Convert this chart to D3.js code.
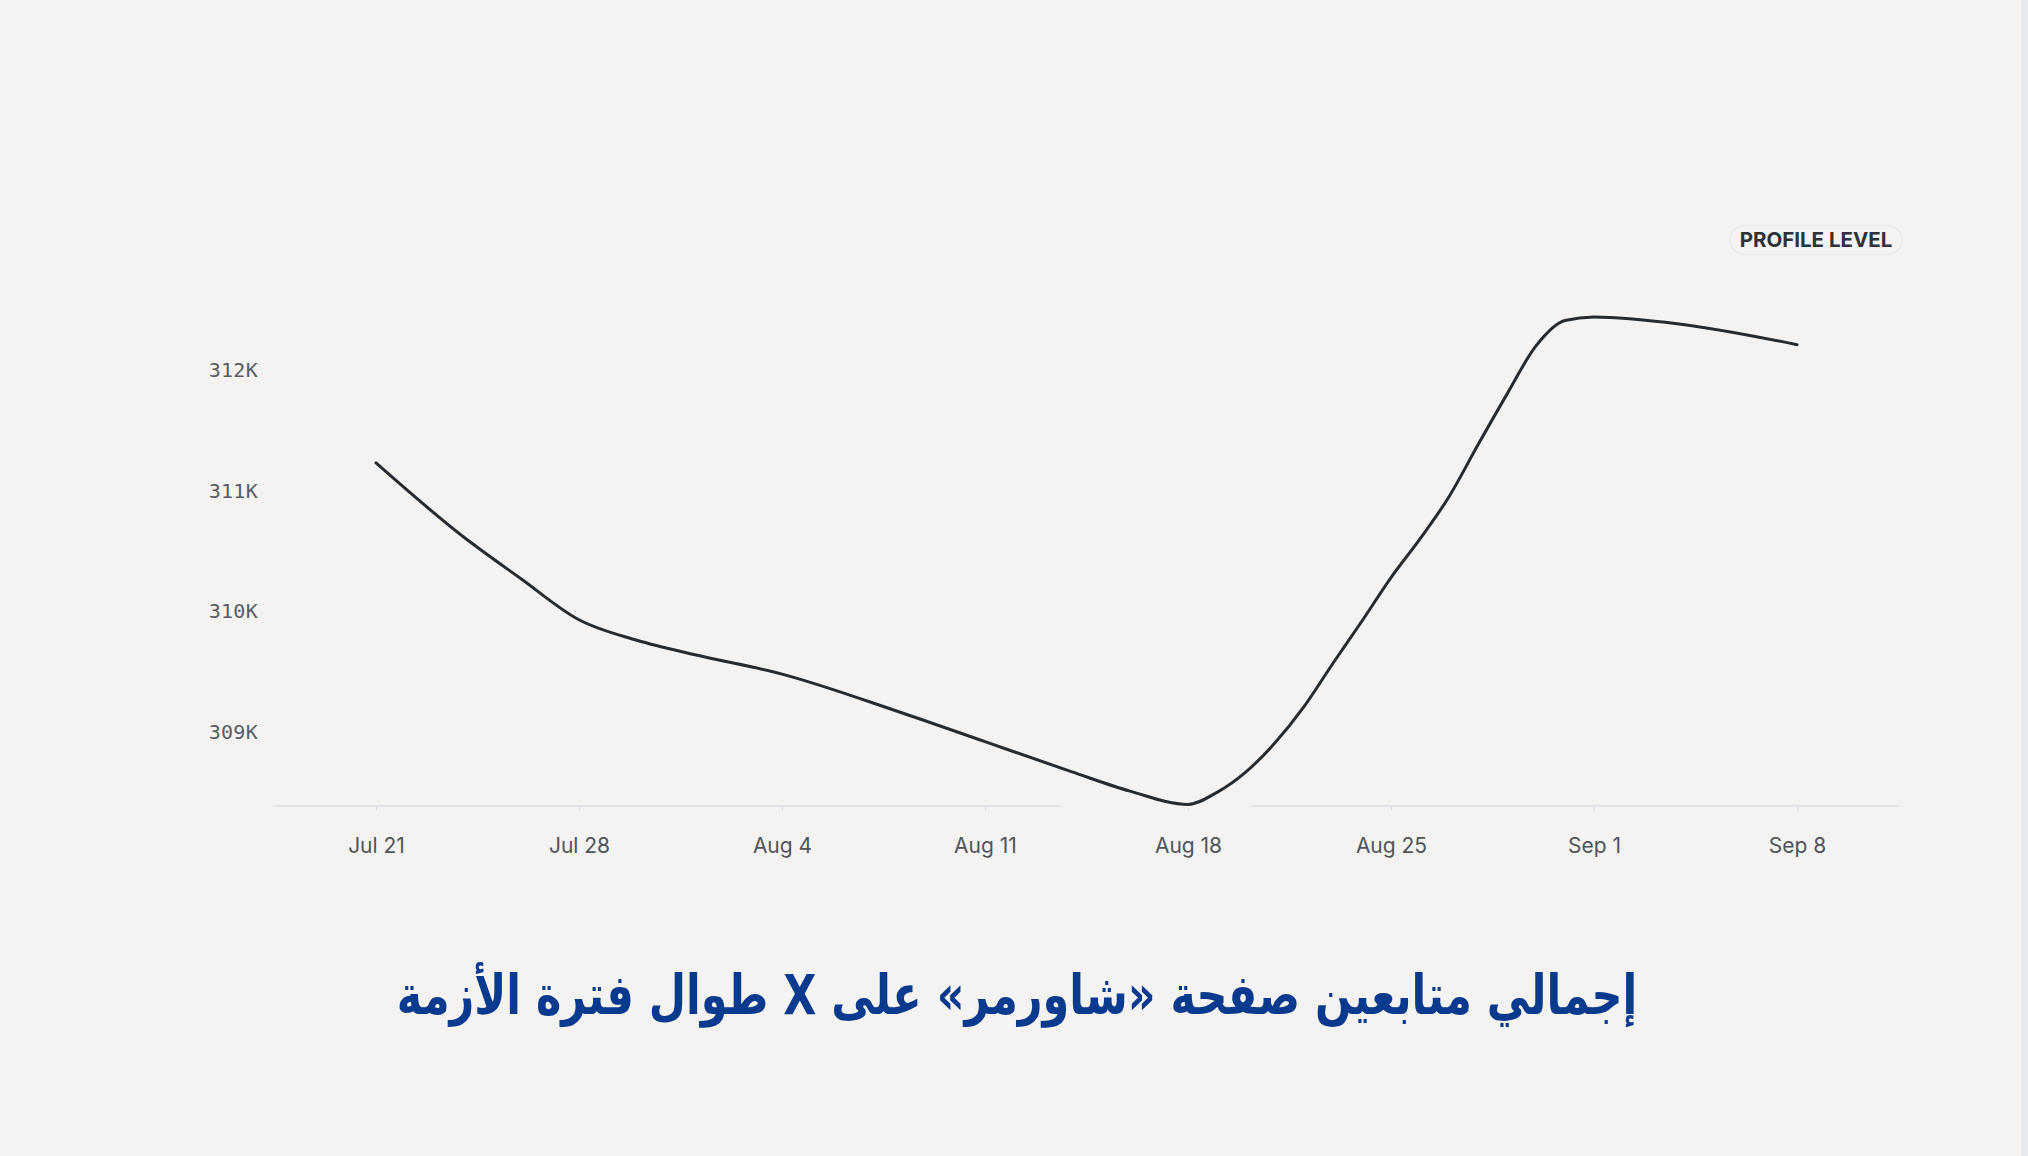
<!DOCTYPE html>
<html>
<head>
<meta charset="utf-8">
<script src="https://cdn.jsdelivr.net/npm/d3@7"></script>
<style>
  html, body { margin: 0; padding: 0; background: #f4f3f1; }
  svg { display: block; }
</style>
</head>
<body>
<svg id="chart" width="2028" height="1156"></svg>
<script>
// ---- data ----
const dates = [
  "2024-07-21","2024-07-24","2024-07-26","2024-07-28","2024-07-30","2024-08-01",
  "2024-08-04","2024-08-08","2024-08-11","2024-08-14","2024-08-16","2024-08-18",
  "2024-08-19","2024-08-20","2024-08-21","2024-08-22","2024-08-23","2024-08-24",
  "2024-08-25","2024-08-26","2024-08-27","2024-08-28","2024-08-29","2024-08-30",
  "2024-08-31","2024-09-01","2024-09-04","2024-09-08"
];
const followers = [
  311230, 310620, 310270, 309930, 309760, 309640,
  309480, 309170, 308920, 308670, 308510, 308400,
  308500, 308670, 308910, 309210, 309570, 309920,
  310280, 310600, 310950, 311380, 311800, 312200,
  312410, 312440, 312380, 312210
];
const xTickDates = ["2024-07-21","2024-07-28","2024-08-04","2024-08-11","2024-08-18","2024-08-25","2024-09-01","2024-09-08"];
const yTickValues = [309000, 310000, 311000, 312000];
const axisGap = ["2024-08-13T15:00","2024-08-20T04:00"];
const badgeLabel = "PROFILE LEVEL";
const titleText = "إجمالي متابعين صفحة «شاورمر» على X طوال فترة الأزمة";

// ---- layout ----
const W = 2028, H = 1156;
const axisY = 806;
const axisLeft = 275, axisRight = 1899;
const parse = d3.isoParse;

const svg = d3.select("#chart");
svg.append("rect").attr("width", W).attr("height", H).attr("fill", "#f4f3f1");
svg.append("rect").attr("x", 2021).attr("y", 0).attr("width", 7).attr("height", H).attr("fill", "#e8e9ec");

const x = d3.scaleTime()
  .domain([parse(xTickDates[0]), parse(xTickDates[xTickDates.length - 1])])
  .range([376, 1797]);
const y = d3.scaleLinear().domain([309000, 312000]).range([732, 370]);

const data = dates.map((d, i) => ({ date: parse(d), value: followers[i] }));

// x axis
const xAxis = d3.axisBottom(x)
  .tickValues(xTickDates.map(parse))
  .tickFormat(d3.timeFormat("%b %-d"))
  .tickSize(5)
  .tickPadding(0);
const gx = svg.append("g").attr("transform", `translate(0,${axisY})`).call(xAxis);
gx.select(".domain").remove();
gx.selectAll(".tick line").attr("stroke", "#dcdde1").attr("stroke-width", 1.2);
gx.selectAll(".tick text")
  .attr("y", 47).attr("dy", 0)
  .attr("fill", "#4f545a")
  .style("font-family", "Inter, 'Open Sans', sans-serif")
  .style("font-size", "21px");

// axis baseline with gap
svg.append("line")
  .attr("x1", axisLeft).attr("x2", axisRight)
  .attr("y1", axisY).attr("y2", axisY)
  .attr("stroke", "#dcdde1").attr("stroke-width", 1.6);
svg.append("rect")
  .attr("x", x(parse(axisGap[0]))).attr("width", x(parse(axisGap[1])) - x(parse(axisGap[0])))
  .attr("y", axisY - 2).attr("height", 4)
  .attr("fill", "#f4f3f1");

// y axis
const yAxis = d3.axisLeft(y)
  .tickValues(yTickValues)
  .tickFormat(d => (d / 1000) + "K")
  .tickSize(0)
  .tickPadding(0);
const gy = svg.append("g").attr("transform", "translate(258,0)").call(yAxis);
gy.select(".domain").remove();
gy.selectAll(".tick text")
  .attr("fill", "#585d63")
  .style("font-family", "'DejaVu Sans Mono', 'Liberation Mono', monospace")
  .style("font-size", "20px")
  .style("letter-spacing", "0.3px");

// line
const line = d3.line()
  .x(d => x(d.date))
  .y(d => y(d.value))
  .curve(d3.curveMonotoneX);
svg.append("path")
  .datum(data)
  .attr("d", line)
  .attr("fill", "none")
  .attr("stroke", "#262b30")
  .attr("stroke-width", 3)
  .attr("stroke-linecap", "round")
  .attr("stroke-linejoin", "round");

// badge
const badge = svg.append("g");
badge.append("rect")
  .attr("x", 1730).attr("y", 226).attr("width", 172).attr("height", 28)
  .attr("rx", 14)
  .attr("fill", "none")
  .attr("stroke", "#e6e7ea")
  .attr("stroke-width", 1.2);
badge.append("text")
  .attr("x", 1816).attr("y", 247)
  .attr("text-anchor", "middle")
  .attr("fill", "#2c3237")
  .style("font-family", "Inter, 'Open Sans', sans-serif")
  .style("font-weight", 700)
  .style("font-size", "20.5px")
  .text(badgeLabel);

// title
const title = svg.append("text")
  .attr("x", 0).attr("y", 0)
  .attr("transform", "translate(1017,1014) scale(1,1.28)")
  .attr("text-anchor", "middle")
  .attr("direction", "rtl")
  .attr("fill", "#0a3a8e")
  .style("font-family", "'DejaVu Sans', sans-serif")
  .style("font-weight", 700)
  .style("font-size", "52px")
  .text(titleText);
const tl = title.node().getComputedTextLength();
if (tl > 0) {
  const fs = 52 * 1240 / tl;
  title.style("font-size", fs.toFixed(1) + "px");
}
</script>
</body>
</html>
